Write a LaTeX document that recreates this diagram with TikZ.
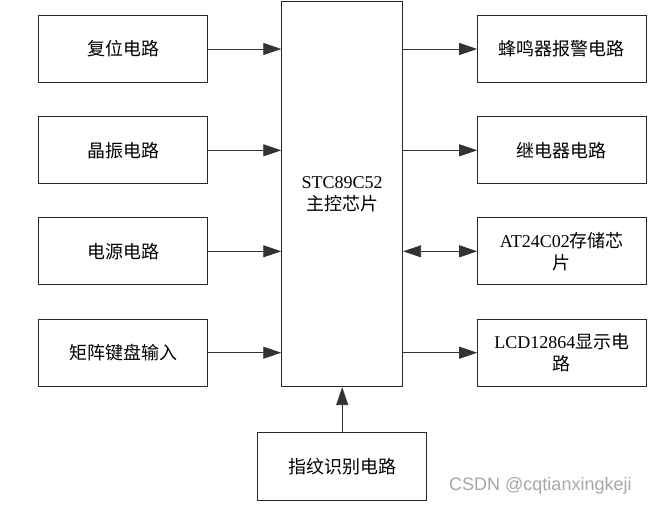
\documentclass[tikz,border=0pt]{standalone}
\usepackage{fontspec}
\setmainfont{Liberation Serif}
\newfontfamily\cjk{Noto Sans CJK SC}
\newfontfamily\wmfont{Liberation Sans}
\usetikzlibrary{arrows.meta}
\begin{document}
\begin{tikzpicture}[x=1pt,y=-1pt,
  blk/.style={draw=black!85, line width=0.9pt, inner sep=0pt, align=center,
    font=\fontsize{18}{22}\selectfont},
  sidebox/.style={blk, minimum width=169pt, minimum height=67pt},
  arr/.style={draw=black!80, line width=0.9pt, -{Triangle[length=18pt,width=12pt]}},
  darr/.style={draw=black!80, line width=0.9pt, {Triangle[length=18pt,width=12pt]}-{Triangle[length=18pt,width=12pt]}}
]
\useasboundingbox (0,0) rectangle (650,504);
% left
\node[sidebox] (l1) at (123.2,49) {\cjk 复位电路};
\node[sidebox] (l2) at (123.2,150.3) {\cjk 晶振电路};
\node[sidebox] (l3) at (123.2,251.3) {\cjk 电源电路};
\node[sidebox] (l4) at (123.2,352.7) {\cjk 矩阵键盘输入};
% center
\node[blk, minimum width=121pt, minimum height=385pt] (c) at (342.2,194.2) {STC89C52\\{\cjk 主控芯片}};
% right
\node[sidebox, minimum width=168.3pt] (r1) at (561.8,49) {\cjk 蜂鸣器报警电路};
\node[sidebox, minimum width=168.3pt] (r2) at (561.8,150.3) {\cjk 继电器电路};
\node[sidebox, minimum width=168.3pt] (r3) at (561.8,251.3) {AT24C02{\cjk 存储芯}\\{\cjk 片}};
\node[sidebox, minimum width=168.3pt] (r4) at (561.8,352.7) {LCD12864{\cjk 显示电}\\{\cjk 路}};
% bottom
\node[sidebox, minimum width=169.4pt, minimum height=67.7pt] (b) at (342.2,466.2) {\cjk 指纹识别电路};
% connectors
\draw[arr] (l1.east) -- (l1.east -| c.west);
\draw[arr] (l2.east) -- (l2.east -| c.west);
\draw[arr] (l3.east) -- (l3.east -| c.west);
\draw[arr] (l4.east) -- (l4.east -| c.west);
\draw[arr] (r1.west -| c.east) -- (r1.west);
\draw[arr] (r2.west -| c.east) -- (r2.west);
\draw[darr] (r3.west -| c.east) -- (r3.west);
\draw[arr] (r4.west -| c.east) -- (r4.west);
\draw[arr] (b.north) -- (b.north |- c.south);
% watermark
\node[text=black!35, font=\wmfont\fontsize{18}{20}\selectfont, anchor=base] (wm) at (540.4,490.5) {CSDN @cqtianxingkeji};
\end{tikzpicture}
\end{document}
